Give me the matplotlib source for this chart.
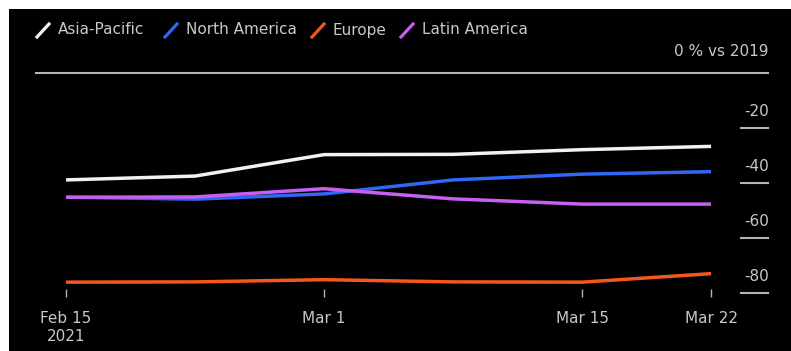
import matplotlib
matplotlib.use("Agg")
import matplotlib.pyplot as plt
import matplotlib.dates as mdates
import matplotlib.transforms as mtransforms
from matplotlib.patches import Rectangle
from matplotlib.lines import Line2D
import pandas as pd

# weekly seat capacity, % change vs 2019
dates = ["2021-02-15", "2021-02-22", "2021-03-01", "2021-03-08", "2021-03-15", "2021-03-22"]
asia_pacific = [-38.9, -37.5, -29.7, -29.6, -27.9, -26.7]
north_america = [-45.2, -45.9, -44.0, -38.9, -36.8, -35.9]
europe = [-76.1, -76.0, -75.2, -76.0, -76.1, -73.0]
latin_america = [-45.2, -45.1, -42.1, -45.8, -47.7, -47.7]

series_names = ["Asia-Pacific", "North America", "Europe", "Latin America"]
series_colors = ["#f2f2f2", "#2f66f5", "#f5561c", "#c85ff2"]

xtick_dates = ["2021-02-15", "2021-03-01", "2021-03-15", "2021-03-22"]
xtick_labels = ["Feb 15\n2021", "Mar 1", "Mar 15", "Mar 22"]
ytick_values = [-20, -40, -60, -80]

text_color = "#c8c8c8"
grid_color = "#b4b4b4"

W, H = 791, 351
fig = plt.figure(figsize=(W / 100, H / 100), dpi=100)
fig.patch.set_facecolor("white")
fig.patches.append(Rectangle((9 / W, 0), 782 / W, 342 / H, transform=fig.transFigure,
                             facecolor="black", edgecolor="none", zorder=-5))

ax = fig.add_axes([36 / W, 54 / H, 732 / W, 224 / H])
ax.set_facecolor("none")
for s in ax.spines.values():
    s.set_visible(False)

x = mdates.date2num(pd.to_datetime(dates))
series = [asia_pacific, north_america, europe, latin_america]
for vals, name, col in zip(series, series_names, series_colors):
    ax.plot(x, vals, color=col, lw=2.5, label=name, solid_capstyle="butt", zorder=3)

ax.set_xlim(x[0] - 1.63, x[-1] + 3.09)
ax.set_ylim(-81.5, 0)

# zero line with unit label
ax.axhline(0, color=grid_color, lw=1.5, clip_on=False)
ytrans = ax.get_yaxis_transform()
lab_off = mtransforms.offset_copy(ytrans, fig=fig, x=1, y=16, units="dots")
ax.text(1.0, 0, "0 % vs 2019", transform=mtransforms.offset_copy(ytrans, fig=fig, x=0, y=21, units="dots"),
        ha="right", va="center", color=text_color, fontsize=11)

# right-hand y ticks: short line with label above it
for v in ytick_values:
    ax.plot([0.963, 1.0], [v, v], transform=ytrans, color=grid_color, lw=1.5, clip_on=False)
    ax.text(1.0, v, str(v), transform=lab_off, ha="right", va="center",
            color=text_color, fontsize=11)
ax.set_yticks([])

ax.set_xticks(mdates.date2num(pd.to_datetime(xtick_dates)))
ax.set_xticklabels(xtick_labels)
ax.tick_params(axis="x", direction="in", length=6, width=1, color=grid_color,
               labelcolor=text_color, labelsize=11, pad=10)
for lbl in ax.get_xticklabels():
    lbl.set_linespacing(1.3)

# legend: slanted strokes + names along the top
legend_x = [37, 165, 312, 401]
for lx, name, col in zip(legend_x, series_names, series_colors):
    fig.lines.append(Line2D([lx / W, (lx + 12) / W], [1 - 37 / H, 1 - 24 / H],
                            transform=fig.transFigure, color=col, lw=2.3))
    fig.text((lx + 21) / W, 1 - 30 / H, name, color=text_color, fontsize=11,
             ha="left", va="center")

fig.savefig("out.png", dpi=100)
